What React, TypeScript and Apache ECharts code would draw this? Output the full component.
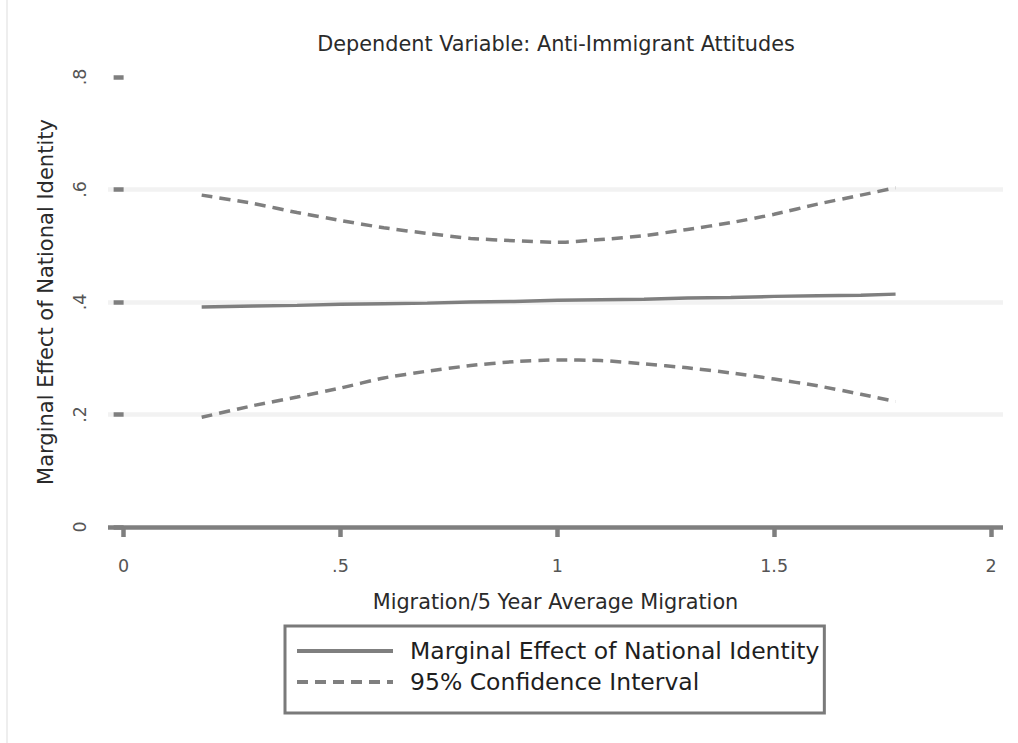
import React, { useEffect, useRef } from "react";
import * as echarts from "echarts";

const chartTitle = "Dependent Variable: Anti-Immigrant Attitudes";
const xAxisTitle = "Migration/5 Year Average Migration";
const yAxisTitle = "Marginal Effect of National Identity";
const seriesNames = ["Marginal Effect of National Identity", "95% Confidence Interval"];

const xTicks = [0, 0.5, 1, 1.5, 2];
const xTickLabels = ["0", ".5", "1", "1.5", "2"];
const yTicks = [0, 0.2, 0.4, 0.6, 0.8];
const yTickLabels = ["0", ".2", ".4", ".6", ".8"];

const migration = [0.18, 0.3, 0.4, 0.5, 0.6, 0.7, 0.8, 0.9, 1.0, 1.1, 1.2, 1.3, 1.4, 1.5, 1.6, 1.7, 1.78];
const marginalEffect = [0.391, 0.393, 0.394, 0.396, 0.397, 0.398, 0.4, 0.401, 0.403, 0.404, 0.405, 0.407, 0.408, 0.41, 0.411, 0.412, 0.414];
const upperCI = [0.59, 0.575, 0.559, 0.545, 0.532, 0.522, 0.513, 0.509, 0.506, 0.511, 0.518, 0.529, 0.541, 0.556, 0.574, 0.59, 0.603];
const lowerCI = [0.195, 0.216, 0.231, 0.247, 0.265, 0.277, 0.287, 0.294, 0.297, 0.296, 0.29, 0.283, 0.274, 0.263, 0.251, 0.236, 0.223];

const FONT = "DejaVu Sans";
const LINE_GRAY = "#7f7f7f";

function pairs(xs: number[], ys: number[]) {
  return xs.map((x, i) => [x, ys[i]]);
}

export default function App() {
  const ref = useRef<HTMLDivElement>(null);

  useEffect(() => {
    if (!ref.current) return;
    const chart = echarts.init(ref.current, null, { renderer: "svg" });
    chart.setOption({
      animation: false,
      backgroundColor: "#ffffff",
      title: {
        text: chartTitle,
        left: 551,
        top: 28,
        textAlign: "center",
        textStyle: { fontFamily: FONT, fontSize: 20.8, fontWeight: "normal", color: "#2a2a2a" },
      },
      graphic: [
        { type: "rect", shape: { x: 6, y: 0, width: 2, height: 743 }, style: { fill: "#eeeeee" }, silent: true },
      ],
      legend: {
        orient: "vertical",
        left: 285,
        top: 626,
        padding: [12, 5, 18, 10],
        itemWidth: 96,
        itemHeight: 2,
        itemGap: 5,
        borderColor: "#7a7a7a",
        borderWidth: 3,
        borderRadius: 0,
        selectedMode: false,
        data: seriesNames,
        itemStyle: { opacity: 0 },
        lineStyle: { width: 4 },
        textStyle: {
          fontFamily: FONT,
          fontSize: 23.5,
          color: "#1e1e1e",
          lineHeight: 26,
          padding: [0, 0, 0, 12],
        },
      },
      grid: { left: 108, right: 15, top: 77, bottom: 216, containLabel: false },
      xAxis: {
        type: "value",
        min: -0.036,
        max: 2.0277,
        offset: 16,
        name: xAxisTitle,
        nameLocation: "middle",
        nameGap: 48,
        nameTextStyle: { fontFamily: FONT, fontSize: 20.8, color: "#2a2a2a" },
        axisLine: { show: false },
        splitLine: { show: false },
        axisTick: {
          show: true,
          length: 10,
          customValues: xTicks,
          lineStyle: { color: LINE_GRAY, width: 4.5 },
        },
        axisLabel: {
          customValues: xTicks,
          margin: 14,
          fontFamily: FONT,
          fontSize: 17.5,
          color: "#555555",
          formatter: (v: number) => {
            const i = xTicks.findIndex((t) => Math.abs(t - v) < 1e-6);
            return i >= 0 ? xTickLabels[i] : "";
          },
        },
      },
      yAxis: {
        type: "value",
        min: 0,
        max: 0.8,
        interval: 0.2,
        name: yAxisTitle,
        nameLocation: "middle",
        nameGap: 52,
        nameTextStyle: { fontFamily: FONT, fontSize: 21, color: "#2a2a2a" },
        axisLine: { show: false },
        axisTick: { show: true, length: 10, lineStyle: { color: LINE_GRAY, width: 4.5 } },
        axisLabel: {
          rotate: 90,
          margin: 19,
          fontFamily: FONT,
          fontSize: 17.5,
          color: "#555555",
          formatter: (v: number) => {
            const i = yTicks.findIndex((t) => Math.abs(t - v) < 1e-6);
            return i >= 0 ? yTickLabels[i] : "";
          },
        },
        splitLine: {
          show: true,
          showMaxLine: false,
          lineStyle: {
            color: [LINE_GRAY, "#f2f2f2", "#f2f2f2", "#f2f2f2", "rgba(0,0,0,0)"],
            width: 4.5,
          },
        },
      },
      series: [
        {
          name: seriesNames[0],
          type: "line",
          data: pairs(migration, marginalEffect),
          symbol: "none",
          lineStyle: { color: LINE_GRAY, width: 3.5, type: "solid" },
          itemStyle: { color: LINE_GRAY },
          z: 3,
        },
        {
          name: seriesNames[1],
          type: "line",
          data: pairs(migration, upperCI),
          symbol: "none",
          smooth: 0.2,
          lineStyle: { color: LINE_GRAY, width: 3.5, type: [11, 7] },
          itemStyle: { color: LINE_GRAY },
          z: 3,
        },
        {
          name: seriesNames[1],
          type: "line",
          data: pairs(migration, lowerCI),
          symbol: "none",
          smooth: 0.2,
          lineStyle: { color: LINE_GRAY, width: 3.5, type: [11, 7] },
          itemStyle: { color: LINE_GRAY },
          z: 3,
        },
      ],
    });
    return () => chart.dispose();
  }, []);

  return (
    <div
      ref={ref}
      style={{ position: "absolute", left: 0, top: 0, width: 1018, height: 743 }}
    />
  );
}
